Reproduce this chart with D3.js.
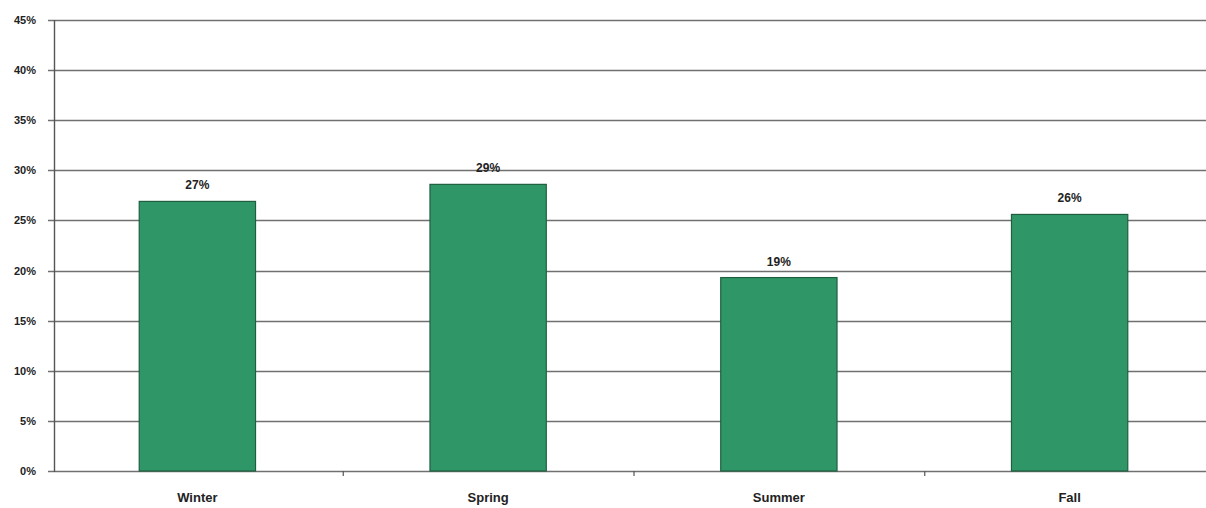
<!DOCTYPE html>
<html>
<head>
<meta charset="utf-8">
<script src="https://cdn.jsdelivr.net/npm/d3@7"></script>
<style>
  html, body { margin: 0; padding: 0; background: #fff; }
  svg { display: block; }
  text { font-family: "Liberation Sans", Arial, sans-serif; font-weight: bold; fill: #222; }
</style>
</head>
<body>
<svg id="chart" width="1206" height="508"></svg>
<script>
// Share of annual total by season
const seasons = ["Winter", "Spring", "Summer", "Fall"];
const shares = [0.269, 0.286, 0.193, 0.256];
const yTickValues = [0, 0.05, 0.10, 0.15, 0.20, 0.25, 0.30, 0.35, 0.40, 0.45];

const svg = d3.select("#chart");
const plot = { left: 54, right: 1215, top: 20, bottom: 471 };

const x = d3.scaleBand().domain(seasons).range([52, plot.right]).padding(0);
const y = d3.scaleLinear().domain([0, 0.45]).range([plot.bottom, plot.top]);
const pct = d3.format(".0%");

// horizontal gridlines with short ticks left of the axis
svg.append("g")
  .selectAll("line")
  .data(yTickValues)
  .join("line")
  .attr("x1", plot.left - 6)
  .attr("x2", 1206)
  .attr("y1", d => Math.round(y(d)) + 0.5)
  .attr("y2", d => Math.round(y(d)) + 0.5)
  .attr("stroke", "#707070")
  .attr("stroke-width", 1.5);

// y tick labels
svg.append("g")
  .selectAll("text")
  .data(yTickValues)
  .join("text")
  .attr("x", 36)
  .attr("y", d => y(d) + 4)
  .attr("text-anchor", "end")
  .attr("font-size", 11)
  .text(pct);

// bars
const barW = x.bandwidth() * 0.4;
svg.append("g")
  .selectAll("rect")
  .data(seasons)
  .join("rect")
  .attr("x", (d) => x(d) + (x.bandwidth() - barW) / 2)
  .attr("y", (d, i) => y(shares[i]))
  .attr("width", barW)
  .attr("height", (d, i) => y(0) - y(shares[i]))
  .attr("fill", "#2f9767")
  .attr("stroke", "#1f5f40")
  .attr("stroke-width", 1.2);

// value labels above bars
svg.append("g")
  .selectAll("text")
  .data(seasons)
  .join("text")
  .attr("x", d => x(d) + x.bandwidth() / 2)
  .attr("y", (d, i) => y(shares[i]) - 12)
  .attr("text-anchor", "middle")
  .attr("font-size", 12)
  .text((d, i) => pct(shares[i]));

// y axis line
svg.append("line")
  .attr("x1", plot.left + 0.5).attr("x2", plot.left + 0.5)
  .attr("y1", plot.top).attr("y2", plot.bottom + 1)
  .attr("stroke", "#555").attr("stroke-width", 1.4);

// x axis: category labels
const xAxis = d3.axisBottom(x).tickSize(0).tickPadding(0);
const gx = svg.append("g").attr("transform", `translate(0,${plot.bottom})`).call(xAxis);
gx.select(".domain").remove();
gx.selectAll("text")
  .attr("y", 31)
  .attr("dy", 0)
  .attr("font-size", 13)
  .style("font-family", "'Liberation Sans', Arial, sans-serif")
  .style("font-weight", "bold")
  .attr("fill", "#222");

// category boundary ticks
svg.append("g")
  .selectAll("line")
  .data(seasons.slice(1))
  .join("line")
  .attr("x1", d => x(d) + 0.5)
  .attr("x2", d => x(d) + 0.5)
  .attr("y1", plot.bottom)
  .attr("y2", plot.bottom + 5)
  .attr("stroke", "#555")
  .attr("stroke-width", 1.2);
</script>
</body>
</html>
